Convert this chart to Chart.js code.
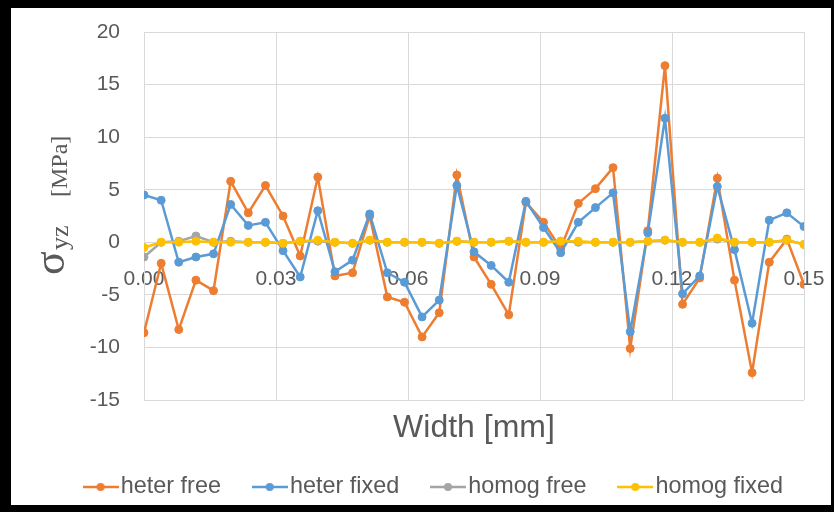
<!DOCTYPE html>
<html>
<head>
<meta charset="utf-8">
<script src="https://cdn.jsdelivr.net/npm/chart.js@4.4.1/dist/chart.umd.min.js"></script>
<style>
  html, body { margin: 0; padding: 0; background: #000; width: 834px; height: 512px; overflow: hidden; }
  #frame { position: absolute; left: 11px; top: 8px; width: 820px; height: 497px; background: #fff; }
  canvas { display: block; }
</style>
</head>
<body>
<div id="frame"><canvas id="chart" width="820" height="497"></canvas></div>
<script>
// Sampling positions across the width [mm]
const widthMm = [
  0.0000, 0.0039, 0.0079, 0.0118, 0.0158, 0.0197, 0.0237, 0.0276, 0.0316, 0.0355,
  0.0395, 0.0434, 0.0474, 0.0513, 0.0553, 0.0592, 0.0632, 0.0671, 0.0711, 0.0750,
  0.0789, 0.0829, 0.0868, 0.0908, 0.0947, 0.0987, 0.1026, 0.1066, 0.1105, 0.1145,
  0.1184, 0.1224, 0.1263, 0.1303, 0.1342, 0.1382, 0.1421, 0.1461, 0.1500
];

// Shear stress sigma_yz [MPa]
const heterFree = [
  -8.6, -2.0, -8.3, -3.6, -4.6, 5.8, 2.8, 5.4, 2.5, -1.3,
  6.2, -3.2, -2.9, 2.5, -5.2, -5.7, -9.0, -6.7, 6.4, -1.4,
  -4.0, -6.9, 3.8, 1.9, -0.6, 3.7, 5.1, 7.1, -10.1, 1.1,
  16.8, -5.9, -3.4, 6.1, -3.6, -12.4, -1.9, 0.3, -4.0
];
const heterFixed = [
  4.5, 4.0, -1.9, -1.4, -1.1, 3.6, 1.6, 1.9, -0.8, -3.3,
  3.0, -2.8, -1.7, 2.7, -2.9, -3.8, -7.1, -5.5, 5.4, -0.9,
  -2.2, -3.8, 3.9, 1.4, -1.0, 1.9, 3.3, 4.7, -8.5, 0.9,
  11.8, -4.9, -3.2, 5.3, -0.7, -7.7, 2.1, 2.8, 1.5
];
const homogFree = [
  -1.4, 0.0, 0.1, 0.6, 0.0, 0.1, 0.0, 0.0, -0.1, 0.1,
  0.1, 0.0, -0.1, 0.2, 0.0, 0.0, 0.0, -0.1, 0.1, 0.0,
  0.0, 0.1, 0.0, 0.0, 0.1, 0.0, 0.0, 0.0, 0.0, 0.1,
  0.2, 0.0, 0.0, 0.3, 0.0, 0.0, 0.0, 0.2, -0.2
];
const homogFixed = [
  -0.5, 0.0, 0.0, 0.1, 0.0, 0.0, 0.0, 0.0, -0.1, 0.1,
  0.2, 0.0, -0.1, 0.2, 0.0, 0.0, 0.0, -0.1, 0.1, 0.0,
  0.0, 0.1, 0.0, 0.0, 0.1, 0.1, 0.0, 0.0, 0.0, 0.1,
  0.2, 0.0, 0.0, 0.4, 0.0, 0.0, 0.0, 0.2, -0.2
];

const seriesNames = ['heter free', 'heter fixed', 'homog free', 'homog fixed'];
const seriesColors = ['#ED7D31', '#5B9BD5', '#A5A5A5', '#FFC000'];
const seriesValues = [heterFree, heterFixed, homogFree, homogFixed];

const TEXT = '#595959';
const GRID = '#D9D9D9';
const SANS = '"Liberation Sans", Arial, sans-serif';
const SERIF = '"Liberation Serif", "Times New Roman", serif';
const LEGEND_SHIFT = 30;

// Line-with-marker swatch for the legend
function swatch(color) {
  const c = document.createElement('canvas');
  c.width = 36; c.height = 12;
  const g = c.getContext('2d');
  g.strokeStyle = color; g.lineWidth = 2.5;
  g.beginPath(); g.moveTo(0, 6); g.lineTo(36, 6); g.stroke();
  g.fillStyle = color;
  g.beginPath(); g.arc(18, 6, 4, 0, Math.PI * 2); g.fill();
  return c;
}

const datasets = seriesNames.map((name, k) => ({
  label: name,
  data: widthMm.map((x, i) => ({ x: x, y: seriesValues[k][i] })),
  borderColor: seriesColors[k],
  backgroundColor: seriesColors[k],
  pointBackgroundColor: seriesColors[k],
  pointBorderColor: seriesColors[k],
  borderWidth: 2.5,
  pointRadius: 4,
  pointBorderWidth: 1,
  tension: 0,
  order: seriesNames.length - k
}));

// Rotated y-axis title with subscript
const yTitle = {
  id: 'yTitle',
  afterDraw(chart) {
    const ctx = chart.ctx;
    ctx.save();
    ctx.translate(53, 267);
    ctx.rotate(-Math.PI / 2);
    ctx.fillStyle = TEXT;
    ctx.textAlign = 'left';
    ctx.textBaseline = 'alphabetic';
    ctx.font = '44px ' + SERIF;
    ctx.fillText('σ', 0, 0);
    ctx.font = '26px ' + SERIF;
    ctx.fillText('yz', 25, 4);
    ctx.font = '24px ' + SERIF;
    ctx.fillText('[MPa]', 78, 3);
    ctx.restore();
  }
};

// Horizontal offset of the legend row
const legendOffset = {
  id: 'legendOffset',
  afterLayout(chart) {
    if (chart.legend) {
      chart.legend.left += LEGEND_SHIFT;
      chart.legend.right += LEGEND_SHIFT;
    }
  }
};

new Chart(document.getElementById('chart'), {
  type: 'line',
  data: { datasets },
  plugins: [yTitle, legendOffset],
  options: {
    responsive: false,
    animation: false,
    events: [],
    layout: { padding: { left: 0, right: 27, top: 24, bottom: -3.7 } },
    scales: {
      x: {
        type: 'linear',
        min: 0,
        max: 0.15,
        position: { y: 0 },
        ticks: {
          stepSize: 0.03,
          padding: 24,
          color: TEXT,
          font: { family: SANS, size: 21 },
          maxRotation: 0,
          callback: v => v.toFixed(2)
        },
        grid: { color: GRID, lineWidth: 1, drawTicks: false },
        border: { color: GRID, width: 1 },
        afterFit(scale) { scale.paddingLeft = 0; scale.paddingRight = 0; }
      },
      y: {
        min: -15,
        max: 20,
        ticks: {
          stepSize: 5,
          padding: 24,
          color: TEXT,
          font: { family: SANS, size: 21 }
        },
        grid: { color: GRID, lineWidth: 1, drawTicks: false },
        border: { color: GRID, width: 1 },
        afterFit(scale) { scale.width = 133; scale.paddingTop = 0; scale.paddingBottom = 0; }
      }
    },
    plugins: {
      tooltip: { enabled: false },
      title: {
        display: true,
        text: 'Width [mm]',
        position: 'bottom',
        fullSize: false,
        color: TEXT,
        font: { family: SANS, size: 32, weight: 'normal', lineHeight: 1 },
        padding: { top: 12, bottom: -9 },
        weight: 2000
      },
      legend: {
        position: 'bottom',
        weight: 3000,
        labels: {
          color: TEXT,
          font: { family: SANS, size: 23.4 },
          padding: 40.3,
          usePointStyle: true,
          pointStyleWidth: 17,
          generateLabels: chart => chart.data.datasets.map((ds, i) => ({
            text: ds.label,
            fontColor: TEXT,
            pointStyle: swatch(ds.borderColor),
            fillStyle: ds.borderColor,
            strokeStyle: ds.borderColor,
            lineWidth: 0,
            hidden: false,
            datasetIndex: i
          }))
        }
      }
    }
  }
});
</script>
</body>
</html>
